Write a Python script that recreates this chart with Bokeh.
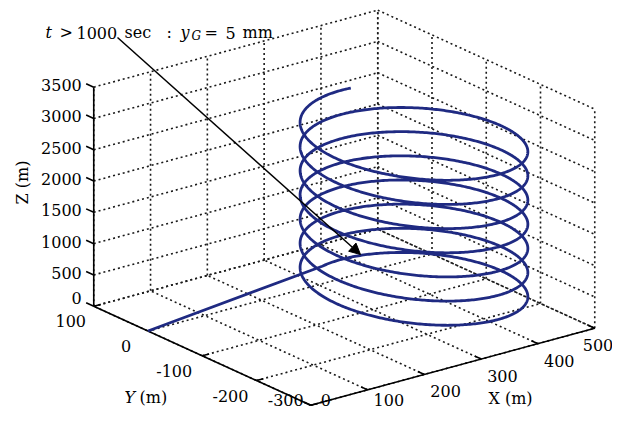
import numpy as np
from bokeh.plotting import figure
from bokeh.models import Range1d, Arrow, NormalHead
from bokeh.core.properties import value
from bokeh.embed import file_html
from bokeh.resources import INLINE

# ---------------- data ----------------
x_ticks = [0, 100, 200, 300, 400, 500]
y_ticks = [100, 0, -100, -200, -300]
z_ticks = [0, 500, 1000, 1500, 2000, 2500, 3000, 3500]
x_tick_labels = ["0", "100", "200", "300", "400", "500"]
y_tick_labels = ["100", "0", "-100", "-200", "-300"]
z_tick_labels = ["0", "500", "1000", "1500", "2000", "2500", "3000", "3500"]

# straight climb from the origin to the start of the spiral
approach_start = [0.0, 0.0, 0.0]
# spiral (helical) ascent
helix_center_xy = [325.0, -150.0]
helix_radius = [145.0]
helix_start_angle_deg = [100.0]
helix_end_angle_deg = [-2440.0]
helix_start_z = [325.0]
helix_pitch = [386.0]      # metres climbed per turn

# ---------------- 3-D projection (MATLAB-like default view) ----------------
O = (147.5, 330.5)           # screen position of (0,0,0)
EX = (0.568, -0.154)         # per metre of X
EY = (-0.5425, -0.2475)      # per metre of Y
EZ = (0.0, -0.0626)          # per metre of Z


def proj(X, Y, Z):
    X = np.asarray(X, float); Y = np.asarray(Y, float); Z = np.asarray(Z, float)
    sx = O[0] + EX[0] * X + EY[0] * Y + EZ[0] * Z
    sy = O[1] + EX[1] * X + EY[1] * Y + EZ[1] * Z
    return sx, sy


XMIN, XMAX = min(x_ticks), max(x_ticks)
YMIN, YMAX = min(y_ticks), max(y_ticks)
ZMIN, ZMAX = min(z_ticks), max(z_ticks)

W, H = 612, 411
p = figure(width=W, height=H, output_backend="svg", toolbar_location=None,
           x_range=Range1d(0, W), y_range=Range1d(H, 0),
           min_border=0)
p.axis.visible = False
p.grid.visible = False
p.outline_line_color = None
p.background_fill_color = "white"
p.border_fill_color = "white"

# ---------------- dotted grid on back walls and floor ----------------
gxs, gys = [], []


def seg(a, b):
    sx, sy = proj([a[0], b[0]], [a[1], b[1]], [a[2], b[2]])
    gxs.append(list(sx)); gys.append(list(sy))


for xv in x_ticks:
    seg((xv, YMAX, ZMIN), (xv, YMAX, ZMAX))   # back wall verticals
    seg((xv, YMIN, ZMIN), (xv, YMAX, ZMIN))   # floor
for yv in y_ticks:
    seg((XMAX, yv, ZMIN), (XMAX, yv, ZMAX))   # right wall verticals
    seg((XMIN, yv, ZMIN), (XMAX, yv, ZMIN))   # floor
for zv in z_ticks:
    seg((XMIN, YMAX, zv), (XMAX, YMAX, zv))   # back wall horizontals
    seg((XMAX, YMAX, zv), (XMAX, YMIN, zv))   # right wall horizontals
p.multi_line(gxs, gys, line_color="#1a1a1a", line_width=1.6, line_dash="2 3")

# ---------------- axis lines ----------------
axs, ays = [], []
for a, b in [((XMIN, YMAX, ZMIN), (XMIN, YMAX, ZMAX)),
             ((XMIN, YMAX, ZMIN), (XMIN, YMIN, ZMIN)),
             ((XMIN, YMIN, ZMIN), (XMAX, YMIN, ZMIN))]:
    sx, sy = proj([a[0], b[0]], [a[1], b[1]], [a[2], b[2]])
    axs.append(list(sx)); ays.append(list(sy))
# tick marks
for zv in z_ticks:
    sx, sy = proj([XMIN, XMIN], [YMAX, YMAX + 14], [zv, zv])
    axs.append(list(sx)); ays.append(list(sy))
for yv in y_ticks:
    sx, sy = proj([XMIN, XMIN + 12], [yv, yv], [ZMIN, ZMIN])
    axs.append(list(sx)); ays.append(list(sy))
for xv in x_ticks:
    sx, sy = proj([xv, xv], [YMIN, YMIN + 12], [ZMIN, ZMIN])
    axs.append(list(sx)); ays.append(list(sy))
p.multi_line(axs, ays, line_color="black", line_width=1.6)

# ---------------- trajectory ----------------
th = np.radians(np.linspace(helix_start_angle_deg[0], helix_end_angle_deg[0], 2500))
turns = (np.radians(helix_start_angle_deg[0]) - th) / (2 * np.pi)
hx = helix_center_xy[0] + helix_radius[0] * np.cos(th)
hy = helix_center_xy[1] + helix_radius[0] * np.sin(th)
hz = helix_start_z[0] + helix_pitch[0] * turns
tx = np.concatenate([[approach_start[0]], hx])
ty = np.concatenate([[approach_start[1]], hy])
tz = np.concatenate([[approach_start[2]], hz])
sx, sy = proj(tx, ty, tz)
p.line(sx, sy, line_color="#1f2a82", line_width=2.8, line_join="round")

# ---------------- tick labels ----------------
SERIF = value("DejaVu Serif")
TFS = "16px"
YLIM_TXT = 399  # keep labels inside the drawable area
zsx, zsy = proj([XMIN] * len(z_ticks), [YMAX] * len(z_ticks), z_ticks)
zsy = zsy - 2
zsy[0] = zsy[0] - 6
p.text(zsx - 12, zsy, text=z_tick_labels, text_font=SERIF, text_font_size=TFS,
       text_align="right", text_baseline="middle", text_color="black")

ysx, ysy = proj([XMIN] * len(y_ticks), y_ticks, [ZMIN] * len(y_ticks))
ylx = ysx + np.array([-23, -22, -28, -26, -25])
yly = np.minimum(ysy + 15, YLIM_TXT)
p.text(ylx, yly, text=y_tick_labels, text_font=SERIF, text_font_size=TFS,
       text_align="center", text_baseline="middle", text_color="black")

xsx, xsy = proj(x_ticks, [YMIN] * len(x_ticks), [ZMIN] * len(x_ticks))
xlx = xsx + 6
xly = np.minimum(xsy + 17, YLIM_TXT)
xlx[0] += 4
xlx[-1] -= 18
p.text(xlx, xly, text=x_tick_labels, text_font=SERIF, text_font_size=TFS,
       text_align="left", text_baseline="middle", text_color="black")

# ---------------- axis titles ----------------
p.text([22], [182], text=["Z (m)"], angle=np.pi / 2, text_font=SERIF,
       text_font_size="16px", text_align="center", text_baseline="middle")
p.text([124], [397], text=["Y"], text_font=SERIF, text_font_style="italic",
       text_font_size="16px", text_align="left", text_baseline="middle")
p.text([139], [397], text=["(m)"], text_font=SERIF,
       text_font_size="16px", text_align="left", text_baseline="middle")
p.text([510], [398], text=["X (m)"], text_font=SERIF,
       text_font_size="16px", text_align="center", text_baseline="middle")

# ---------------- annotation ----------------
pieces = [("t", 45, "italic", "16px", 32), (">", 59, "normal", "16px", 32),
          ("1000", 76, "normal", "16px", 32), ("sec", 124, "normal", "16px", 32),
          (":", 166, "normal", "16px", 32), ("y", 180, "italic", "16px", 32),
          ("G", 191, "italic", "12px", 35), ("=", 204, "normal", "16px", 32),
          ("5", 225, "normal", "16px", 32), ("mm", 242, "normal", "16px", 32)]
for s, xx, st, fs, yy in pieces:
    p.text([xx], [yy], text=[s], text_font=SERIF, text_font_style=st,
           text_font_size=fs, text_align="left", text_baseline="alphabetic",
           text_color="black")

p.add_layout(Arrow(end=NormalHead(size=11, fill_color="black", line_color="black"),
                   x_start=117, y_start=37, x_end=360, y_end=254,
                   line_color="black", line_width=1.5))

open("out.html", "w").write(file_html(p, INLINE))
